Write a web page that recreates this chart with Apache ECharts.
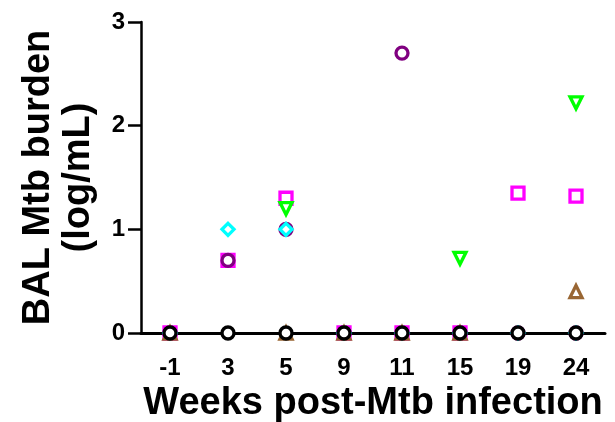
<!DOCTYPE html>
<html>
<head>
<meta charset="utf-8">
<script src="https://cdn.jsdelivr.net/npm/echarts@6/dist/echarts.min.js"></script>
<style>
html, body { margin: 0; padding: 0; background: #fff; }
#main { width: 615px; height: 422px; }
</style>
</head>
<body>
<div id="main"></div>
<script>
// 横轴：感染后周数
var weeks = ["-1", "3", "5", "9", "11", "15", "19", "24"];
// 纵轴刻度
var yTicks = [0, 1, 2, 3];
// 各动物的 BAL Mtb 负荷 (log/mL)，null 表示无可见点
var magentaSq = [0, 0.7, 1.3, 0, 0, 0, 1.35, 1.32];
var purpleCirc = [0, 0.7, 1.0, 0, 2.7, 0, 0, 0];
var cyanDiam = [0, 1.0, 1.0, 0, 0, 0, 0, 0];
var brownTri = [0, null, 0, 0, 0, 0, null, 0.4];
var greenTri = [null, null, 1.2, null, null, 0.72, null, 2.22];
var blackCirc = [0, 0, 0, 0, 0, 0, 0, 0];

var FONT = "Arial, 'Liberation Sans', sans-serif";

function mkSeries(name, data, symbol, color, rotate) {
	return {
		name : name,
		type : 'scatter',
		data : data,
		symbol : symbol,
		symbolSize : 12,
		symbolRotate : rotate || 0,
		itemStyle : {
			color : '#fff',
			borderColor : color,
			borderWidth : 3.3,
			opacity : 1
		},
		emphasis : { disabled : true }
	};
}

var myChart = echarts.init(document.getElementById('main'));
var option = {
	animation : false,
	grid : { left : 141, right : 10, top : 22, bottom : 89, containLabel : false, outerBoundsMode : 'none' },
	xAxis : {
		type : 'category',
		data : weeks,
		boundaryGap : true,
		name : 'Weeks post-Mtb infection',
		nameLocation : 'middle',
		nameGap : 49,
		nameTextStyle : { fontFamily : FONT, fontWeight : 'bold', fontSize : 38, color : '#000' },
		axisLine : { lineStyle : { color : '#000', width : 3 } },
		axisTick : { alignWithLabel : true, length : 12, lineStyle : { color : '#000', width : 3 } },
		axisLabel : { fontFamily : FONT, fontWeight : 'bold', fontSize : 24, color : '#000', margin : 23 },
		splitLine : { show : false }
	},
	yAxis : {
		type : 'value',
		min : yTicks[0],
		max : yTicks[yTicks.length - 1],
		interval : 1,
		name : 'BAL Mtb burden\n(log/mL)',
		nameLocation : 'middle',
		nameGap : 42,
		nameTextStyle : { fontFamily : FONT, fontWeight : 'bold', fontSize : 38, lineHeight : 40, color : '#000' },
		axisLine : { show : true, lineStyle : { color : '#000', width : 2.5 } },
		axisTick : { show : true, length : 13, lineStyle : { color : '#000', width : 2.5 } },
		axisLabel : { fontFamily : FONT, fontWeight : 'bold', fontSize : 24, color : '#000', margin : 16 },
		splitLine : { show : false }
	},
	series : [
		mkSeries('A', magentaSq, 'rect', '#ff00ff'),
		mkSeries('B', purpleCirc, 'circle', '#800080'),
		mkSeries('C', cyanDiam, 'diamond', '#00ffff'),
		mkSeries('D', brownTri, 'triangle', '#996633'),
		mkSeries('E', greenTri, 'triangle', '#00ff00', 180),
		mkSeries('F', blackCirc, 'circle', '#000')
	]
};
myChart.setOption(option);
</script>
</body>
</html>
